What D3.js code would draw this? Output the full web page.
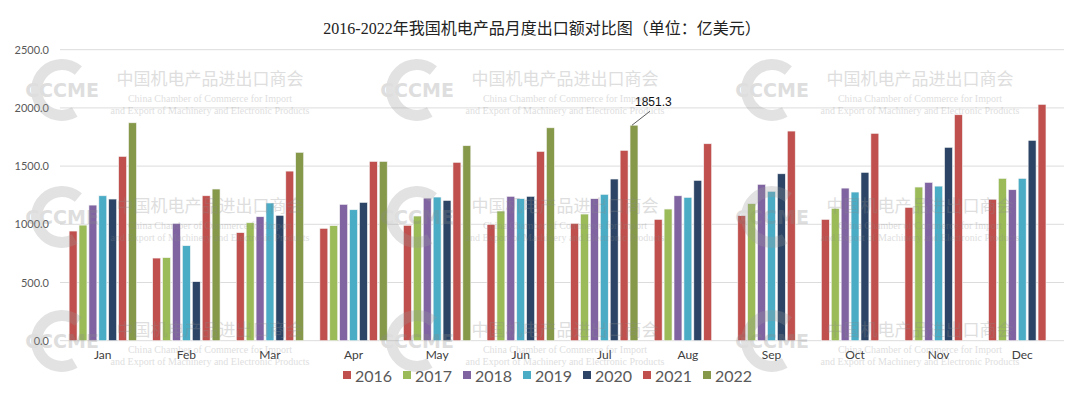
<!DOCTYPE html>
<html>
<head>
<meta charset="utf-8">
<script src="https://cdn.jsdelivr.net/npm/d3@7"></script>
<style>
  body { margin: 0; background: #fff; }
  svg { display: block; }
</style>
</head>
<body>
<svg id="chart" width="1080" height="399"></svg>
<script>
// months and years
const months = ['Jan', 'Feb', 'Mar', 'Apr', 'May', 'Jun', 'Jul', 'Aug', 'Sep', 'Oct', 'Nov', 'Dec'];
const years = ['2016', '2017', '2018', '2019', '2020', '2021', '2022'];
const yTicks = [0, 500, 1000, 1500, 2000, 2500];

// monthly export values, 亿美元
const v2016 = [942, 710, 928, 965, 991, 999, 1008, 1042, 1074, 1042, 1145, 1214];
const v2017 = [993, 713, 1013, 988, 1071, 1114, 1088, 1131, 1177, 1137, 1320, 1394];
const v2018 = [1165, 1008, 1065, 1171, 1225, 1240, 1220, 1245, 1343, 1311, 1360, 1297];
const v2019 = [1245, 816, 1183, 1125, 1234, 1220, 1257, 1231, 1283, 1277, 1328, 1394];
const v2020 = [1217, 507, 1077, 1188, 1205, 1240, 1389, 1377, 1434, 1446, 1661, 1721];
const v2021 = [1583, 1245, 1457, 1540, 1532, 1626, 1635, 1692, 1801, 1781, 1941, 2030];
const v2022 = [1872, 1303, 1618, 1540, 1675, 1829, 1851.3, null, null, null, null, null];

const colours = ['#c0504d', '#9bbb59', '#8064a2', '#4bacc6', '#2c4566', '#c0504d', '#86994a'];
const series = [v2016, v2017, v2018, v2019, v2020, v2021, v2022];

const svg = d3.select('#chart');

const x0 = d3.scaleBand().domain(months).range([61, 1064]).paddingInner(0).paddingOuter(0);
const x1 = d3.scaleBand().domain(years).range([0, x0.bandwidth()]).paddingInner(0.2).paddingOuter(0.82);
const y = d3.scaleLinear().domain([0, 2500]).range([340.7, 49.7]);

// title
svg.append('text')
  .attr('x', 542).attr('y', 34)
  .attr('text-anchor', 'middle')
  .style('font-family', '"Liberation Serif", "Noto Sans CJK SC", serif')
  .style('font-size', '16px')
  .attr('fill', '#222')
  .text('2016-2022年我国机电产品月度出口额对比图（单位：亿美元）');

// grid lines
svg.append('g')
  .selectAll('line')
  .data(yTicks)
  .join('line')
    .attr('x1', 60).attr('x2', 1064)
    .attr('y1', d => y(d)).attr('y2', d => y(d))
    .attr('stroke', '#dcdcdc').attr('stroke-width', 1);

// y axis labels
svg.append('g')
  .selectAll('text')
  .data(yTicks)
  .join('text')
    .attr('x', 49).attr('y', d => y(d) + 4)
    .attr('text-anchor', 'end')
    .style('font-family', 'Lato, "Open Sans", sans-serif')
    .style('font-size', '11px')
    .attr('fill', '#595959')
    .text(d => d.toFixed(1));

// bars
const bars = [];
series.forEach((vals, i) => {
  vals.forEach((v, m) => {
    if (v != null) bars.push({ year: years[i], month: months[m], value: v, colour: colours[i] });
  });
});

svg.append('g')
  .selectAll('rect')
  .data(bars)
  .join('rect')
    .attr('x', d => x0(d.month) + x1(d.year))
    .attr('y', d => y(d.value))
    .attr('width', x1.bandwidth())
    .attr('height', d => y(0) - y(d.value))
    .attr('fill', d => d.colour)
    .attr('stroke', '#f4f4f4')
    .attr('stroke-width', 0.6);

// month labels
svg.append('g')
  .selectAll('text')
  .data(months)
  .join('text')
    .attr('x', d => x0(d) + x0.bandwidth() / 2)
    .attr('y', 359)
    .attr('text-anchor', 'middle')
    .style('font-family', 'Lato, "Open Sans", sans-serif')
    .style('font-size', '12px')
    .attr('fill', '#404040')
    .text(d => d);

// annotation for Jul 2022
const julX = x0('Jul') + x1('2022') + x1.bandwidth() / 2;
const julY = y(v2022[6]);
svg.append('line')
  .attr('x1', julX - 2).attr('y1', julY)
  .attr('x2', julX + 16).attr('y2', julY - 14)
  .attr('stroke', '#333').attr('stroke-width', 0.8);
svg.append('text')
  .attr('x', julX + 1).attr('y', julY - 19)
  .style('font-family', '"Liberation Sans", Arial, sans-serif')
  .style('font-size', '12px')
  .attr('fill', '#111')
  .text(v2022[6].toFixed(1));

// legend
const legend = svg.append('g')
  .selectAll('g')
  .data(years)
  .join('g')
    .attr('transform', (d, i) => `translate(${343 + i * 60},0)`);
legend.append('rect')
  .attr('x', 0).attr('y', 371)
  .attr('width', 8).attr('height', 8)
  .attr('fill', (d, i) => colours[i]);
legend.append('text')
  .attr('x', 12).attr('y', 382)
  .style('font-family', 'Lato, "Open Sans", sans-serif')
  .style('font-size', '16px')
  .attr('fill', '#595959')
  .text(d => d);

// watermarks (drawn on top, faint)
const marks = [];
[0, 355, 710].forEach(dx => [0, 127, 251].forEach(dy => marks.push({ dx, dy })));
const arc = d3.arc().innerRadius(20).outerRadius(31)
  .startAngle(150 * Math.PI / 180).endAngle(400 * Math.PI / 180);

const wm = svg.append('g')
  .attr('pointer-events', 'none')
  .selectAll('g')
  .data(marks)
  .join('g')
    .attr('transform', d => `translate(${d.dx},${d.dy})`)
    .attr('opacity', 0.28);
wm.append('path')
  .attr('d', arc)
  .attr('transform', 'translate(62,90)')
  .attr('fill', '#9a9a9a');
wm.append('text')
  .attr('x', 62).attr('y', 97)
  .attr('text-anchor', 'middle')
  .style('font-family', '"DejaVu Sans", sans-serif')
  .style('font-weight', 'bold')
  .style('font-size', '19px')
  .attr('fill', '#8a8a8a')
  .text('CCCME');
wm.append('text')
  .attr('x', 210).attr('y', 85)
  .attr('text-anchor', 'middle')
  .style('font-family', '"Noto Sans CJK SC", sans-serif')
  .style('font-size', '17px')
  .attr('fill', '#8a8a8a')
  .text('中国机电产品进出口商会');
wm.append('text')
  .attr('x', 210).attr('y', 102)
  .attr('text-anchor', 'middle')
  .style('font-family', '"Liberation Serif", serif')
  .style('font-size', '10px')
  .attr('fill', '#8a8a8a')
  .text('China Chamber of Commerce for Import');
wm.append('text')
  .attr('x', 210).attr('y', 114)
  .attr('text-anchor', 'middle')
  .style('font-family', '"Liberation Serif", serif')
  .style('font-size', '10px')
  .attr('fill', '#8a8a8a')
  .text('and Export of Machinery and Electronic Products');
</script>
</body>
</html>
